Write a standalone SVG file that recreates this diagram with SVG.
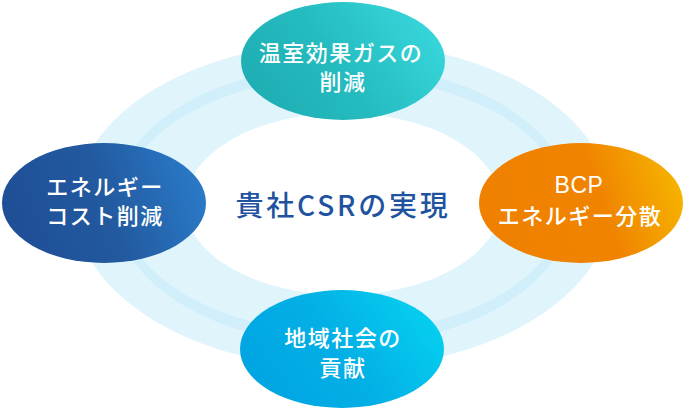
<svg xmlns="http://www.w3.org/2000/svg" width="685" height="411" viewBox="0 0 685 411">
  <style>
    .node-text { font-family: "Noto Sans CJK JP", "Noto Sans", sans-serif; font-size: 22px; font-weight: 500; fill: #ffffff; text-anchor: middle; letter-spacing: 1.5px; }
    .latin { font-family: "Liberation Sans", "Noto Sans", sans-serif; font-size: 23px; letter-spacing: 0.5px; }
    .center-text { font-family: "Noto Sans CJK JP", "Noto Sans", sans-serif; font-size: 28px; font-weight: 500; fill: #1f53a0; text-anchor: middle; letter-spacing: 2.8px; }
  </style>
  <defs>
    <linearGradient id="gTeal" x1="0" y1="0.7" x2="1" y2="0.3">
      <stop offset="0" stop-color="#1eadb2"/>
      <stop offset="0.45" stop-color="#24bbbf"/>
      <stop offset="1" stop-color="#37d7db"/>
    </linearGradient>
    <linearGradient id="gBlue" x1="0" y1="0.6" x2="1" y2="0.4">
      <stop offset="0" stop-color="#1f4e96"/>
      <stop offset="0.5" stop-color="#22599f"/>
      <stop offset="1" stop-color="#2a7ac8"/>
    </linearGradient>
    <linearGradient id="gOrange" x1="0" y1="0.6" x2="1" y2="0.4">
      <stop offset="0" stop-color="#ef8000"/>
      <stop offset="0.6" stop-color="#f08400"/>
      <stop offset="1" stop-color="#f6b300"/>
    </linearGradient>
    <linearGradient id="gSky" x1="0" y1="0.7" x2="1" y2="0.3">
      <stop offset="0" stop-color="#00a4e2"/>
      <stop offset="0.5" stop-color="#03b0e6"/>
      <stop offset="1" stop-color="#05d0f0"/>
    </linearGradient>
  </defs>

  <g id="connectors">
    <ellipse cx="343" cy="205" rx="268" ry="163" fill="#e0f4fc"/>
    <ellipse cx="343" cy="205" rx="229" ry="140" fill="#d1effb"/>
    <ellipse cx="343" cy="205" rx="221" ry="128" fill="#e0f4fc"/>
    <ellipse cx="343" cy="204" rx="158" ry="91" fill="#ffffff"/>
  </g>

  <g id="center">
    <text class="center-text" x="343" y="216">貴社CSRの実現</text>
  </g>

  <g id="node-ghg">
    <ellipse cx="343" cy="61" rx="102" ry="59" fill="url(#gTeal)"/>
    <text class="node-text" x="341" y="61">温室効果ガスの</text>
    <text class="node-text" x="343" y="90">削減</text>
  </g>

  <g id="node-energy-cost">
    <ellipse cx="104" cy="203" rx="102" ry="60" fill="url(#gBlue)"/>
    <text class="node-text" x="105" y="195">エネルギー</text>
    <text class="node-text" x="105" y="224">コスト削減</text>
  </g>

  <g id="node-bcp">
    <ellipse cx="581" cy="203" rx="102" ry="60" fill="url(#gOrange)"/>
    <text class="node-text latin" x="579" y="193">BCP</text>
    <text class="node-text" x="580" y="224">エネルギー分散</text>
  </g>

  <g id="node-community">
    <ellipse cx="342" cy="349" rx="102" ry="59" fill="url(#gSky)"/>
    <text class="node-text" x="343" y="346">地域社会の</text>
    <text class="node-text" x="343" y="376">貢献</text>
  </g>
</svg>
